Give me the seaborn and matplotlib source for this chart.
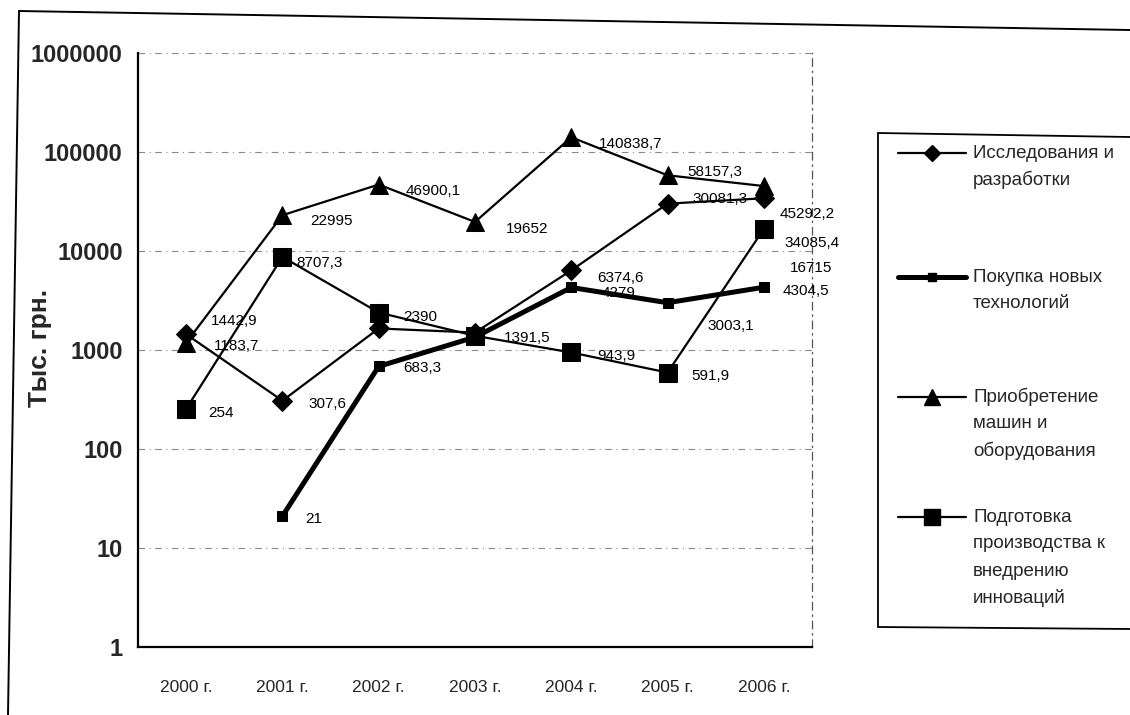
import numpy as np
import pandas as pd
import matplotlib
matplotlib.use("Agg")
import matplotlib.pyplot as plt
import seaborn as sns
from matplotlib.lines import Line2D

# ---------------- data ----------------
years = ["2000 г.", "2001 г.", "2002 г.", "2003 г.", "2004 г.", "2005 г.", "2006 г."]
research = [1442.9, 307.6, 1650.0, 1500.0, 6374.6, 30081.3, 34085.4]
technology = [np.nan, 21.0, 683.3, 1350.0, 4279.0, 3003.1, 4304.5]
machinery = [1183.7, 22995.0, 46900.1, 19652.0, 140838.7, 58157.3, 45292.2]
preparation = [254.0, 8707.3, 2390.0, 1391.5, 943.9, 591.9, 16715.0]

name_research = "Исследования и\nразработки"
name_technology = "Покупка новых\nтехнологий"
name_machinery = "Приобретение\nмашин и\nоборудования"
name_preparation = "Подготовка\nпроизводства к\nвнедрению\nинноваций"
y_label = "Тыс. грн."
y_ticks = [1, 10, 100, 1000, 10000, 100000, 1000000]

# label offsets in pixels (dx right, dy down); None = no label shown
off_research = [(25, -13), (26, 3), None, None, (26, 8), (25, -5), (21, 45)]
off_technology = [None, (23, 3), (25, 2), None, (30, 6), (40, 23), (19, 4)]
off_machinery = [(28, 3), (28, 6), (27, 6), (31, 7), (28, 7), (20, -3), (16, 28)]
off_preparation = [(22, 4), (14, 6), (25, 4), (29, 2), (26, 4), (24, 3), (26, 39)]

# ---------------- style ----------------
sns.set_style("white")
plt.rcParams["font.family"] = ["Liberation Sans", "DejaVu Sans"]

W, H = 1130, 715
fig = plt.figure(figsize=(W / 100, H / 100), dpi=100)


def fx(x):
    return x / W


def fy(y):
    return 1 - y / H


ax_l, ax_r, ax_t, ax_b = 138, 812, 53, 647
ax = fig.add_axes([fx(ax_l), fy(ax_b), fx(ax_r - ax_l), (ax_b - ax_t) / H])

xpos = np.arange(len(years))

series = [
    (name_research, research, dict(marker="D", markersize=10, linewidth=1.6), off_research),
    (name_technology, technology, dict(marker="s", markersize=7, linewidth=3.6), off_technology),
    (name_machinery, machinery, dict(marker="^", markersize=13, linewidth=1.6), off_machinery),
    (name_preparation, preparation, dict(marker="s", markersize=13, linewidth=1.6), off_preparation),
]

for name, vals, style, offs in series:
    df = pd.DataFrame({"x": xpos, "y": vals}).dropna()
    sns.lineplot(data=df, x="x", y="y", ax=ax, color="black",
                 markeredgecolor="black", markerfacecolor="black",
                 legend=False, zorder=3, **style)


def fmt(v):
    if abs(v - round(v)) < 1e-9:
        return f"{int(round(v))}"
    return f"{v:.1f}".replace(".", ",")


for name, vals, style, offs in series:
    for xi, v, o in zip(xpos, vals, offs):
        if o is None or v is None or (isinstance(v, float) and np.isnan(v)):
            continue
        ax.annotate(fmt(v), xy=(xi, v), xytext=(o[0], -o[1]),
                    textcoords="offset pixels", ha="left", va="center",
                    fontsize=11, color="black", zorder=4)

ax.set_yscale("log")
ax.set_ylim(1, 1000000)
ax.set_xlim(-0.5, 6.5)
ax.set_yticks(y_ticks)
ax.set_yticklabels([str(t) for t in y_ticks], fontsize=17, fontweight="bold")
ax.minorticks_off()
ax.set_xticks(xpos)
ax.set_xticklabels(years, fontsize=12.5)
ax.set_xticks(np.arange(-0.5, 7.0, 1.0), minor=True)
ax.tick_params(axis="x", which="major", length=0, pad=24)
ax.tick_params(axis="x", which="minor", length=6, width=1.2, direction="out", color="black")
ax.tick_params(axis="y", which="major", length=10, width=1.2, direction="inout", pad=6, color="black")
ax.set_xlabel("")
ax.set_ylabel("")

# gridlines (dash-dot grey) at each decade
for t in y_ticks[1:]:
    ax.axhline(t, color="#8a8a8a", linewidth=0.8, linestyle=(0, (6, 4, 1, 4)), zorder=1)

for s in ["left", "bottom"]:
    ax.spines[s].set_color("black")
    ax.spines[s].set_linewidth(1.6)
ax.spines["top"].set_visible(False)
ax.spines["right"].set_color("#555555")
ax.spines["right"].set_linewidth(0.9)
ax.spines["right"].set_linestyle((0, (6, 4, 1, 4)))

fig.text(fx(40), fy(348), y_label, rotation=90, ha="center", va="center",
         fontsize=19, fontweight="bold")

# outer chart border (scan edges)
fig.add_artist(Line2D([fx(19), fx(1130)], [fy(11), fy(30)], transform=fig.transFigure,
                      color="black", linewidth=1.4))
fig.add_artist(Line2D([fx(19), fx(8)], [fy(11), fy(715)], transform=fig.transFigure,
                      color="black", linewidth=1.4))

# legend box
lx0, ly0, ly1 = 878, 133, 627
fig.add_artist(Line2D([fx(lx0), fx(1130)], [fy(ly0), fy(137)], transform=fig.transFigure,
                      color="black", linewidth=1.3))
fig.add_artist(Line2D([fx(lx0), fx(lx0)], [fy(ly0), fy(ly1)], transform=fig.transFigure,
                      color="black", linewidth=1.3))
fig.add_artist(Line2D([fx(lx0), fx(1130)], [fy(ly1), fy(ly1 + 2)], transform=fig.transFigure,
                      color="black", linewidth=1.3))

leg_y = [153, 277, 397, 517]
for (name, vals, style, offs), y0 in zip(series, leg_y):
    fig.add_artist(Line2D([fx(898), fx(966)], [fy(y0), fy(y0)], transform=fig.transFigure,
                          color="black", linewidth=style["linewidth"]))
    fig.add_artist(Line2D([fx(932)], [fy(y0)], transform=fig.transFigure,
                          marker=style["marker"], markersize=style["markersize"] * 0.85,
                          color="black", linestyle="none"))
    for i, line in enumerate(name.split("\n")):
        fig.text(fx(973), fy(y0 + i * 27), line, ha="left", va="center", fontsize=13.5)

fig.savefig("out.png", dpi=100, facecolor="white")
